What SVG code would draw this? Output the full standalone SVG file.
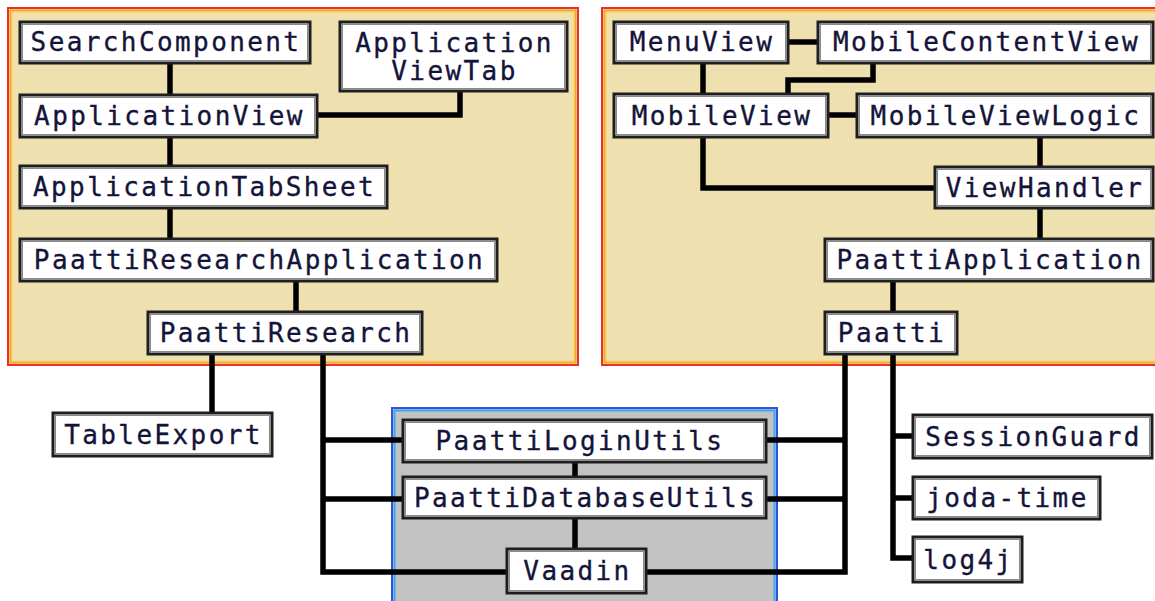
<svg xmlns="http://www.w3.org/2000/svg" width="1155" height="601" viewBox="0 0 1155 601">
<style>
.bg{fill:#ffffff}
.pkg{fill:#EEE1AF;stroke:#E8302C;stroke-width:2}
.pkg2{fill:none;stroke:#F6A623;stroke-width:2}
.pkg3{fill:none;stroke:#F5D35A;stroke-width:1}
.lib{fill:#C2C2C2;stroke:#3550E0;stroke-width:2}
.lib2{fill:none;stroke:#3AA8EE;stroke-width:2}
.box{fill:#ffffff;stroke:#1e1e1e;stroke-width:3}
.bin{fill:none;stroke:#8a8a8a;stroke-width:1}
.t{font-family:"DejaVu Sans Mono","Liberation Mono",monospace;font-size:26px;letter-spacing:2.4px;fill:#14143a;text-anchor:middle;stroke:#14143a;stroke-width:0.35}
.c{fill:none;stroke:#000;stroke-width:5.5;stroke-linejoin:miter;stroke-linecap:butt}
</style>
<rect class="bg" x="0" y="0" width="1155" height="601"/>
<g id="containers">
  <g id="research-pkg">
    <rect class="pkg" x="8" y="8" width="570" height="357"/>
    <rect class="pkg2" x="10.5" y="10.5" width="565" height="352"/>
    <rect class="pkg3" x="12" y="12" width="562" height="349"/>
  </g>
  <g id="paatti-pkg">
    <rect class="pkg" x="602" y="8" width="580" height="357"/>
    <rect class="pkg2" x="604.5" y="10.5" width="575" height="352"/>
    <rect class="pkg3" x="606" y="12" width="572" height="349"/>
  </g>
  <g id="common-pkg">
    <rect class="lib" x="392" y="408" width="385" height="220"/>
    <rect class="lib2" x="394.5" y="410.5" width="380" height="215"/>
  </g>
</g>
<g id="connectors">
  <path class="c" d="M170,63 V95"/>
  <path class="c" d="M460,91 V115 H317"/>
  <path class="c" d="M170,137 V166"/>
  <path class="c" d="M170,208 V239"/>
  <path class="c" d="M296,281 V312"/>
  <path class="c" d="M212,354 V413"/>
  <path class="c" d="M323,354 V572 H507"/>
  <path class="c" d="M323,440 H403"/>
  <path class="c" d="M323,499 H403"/>
  <path class="c" d="M575,462 V477"/>
  <path class="c" d="M575,518 V549"/>
  <path class="c" d="M766,440 H845"/>
  <path class="c" d="M766,499 H845"/>
  <path class="c" d="M646,572 H845 V354"/>
  <path class="c" d="M893,354 V558 H913"/>
  <path class="c" d="M893,436 H913"/>
  <path class="c" d="M893,498 H913"/>
  <path class="c" d="M788,42 H818"/>
  <path class="c" d="M703,63 V94"/>
  <path class="c" d="M873,63 V80 H788 V94"/>
  <path class="c" d="M828,115 H857"/>
  <path class="c" d="M703,137 V188 H935"/>
  <path class="c" d="M1040,137 V167"/>
  <path class="c" d="M1040,208 V239"/>
  <path class="c" d="M893,281 V312"/>
</g>
<g id="SearchComponent"><rect class="box" x="20" y="22" width="290" height="41"/><rect class="bin" x="22.5" y="24.5" width="285" height="36"/><text class="t" x="166" y="51">SearchComponent</text></g>
<g id="ApplicationViewTab"><rect class="box" x="340" y="22" width="227" height="69"/><rect class="bin" x="342.5" y="24.5" width="222" height="64"/><text class="t" x="454.5" y="52">Application</text><text class="t" x="454.5" y="80">ViewTab</text></g>
<g id="ApplicationView"><rect class="box" x="20" y="95" width="297" height="42"/><rect class="bin" x="22.5" y="97.5" width="292" height="37"/><text class="t" x="169.5" y="125">ApplicationView</text></g>
<g id="ApplicationTabSheet"><rect class="box" x="20" y="166" width="367" height="42"/><rect class="bin" x="22.5" y="168.5" width="362" height="37"/><text class="t" x="204.5" y="196">ApplicationTabSheet</text></g>
<g id="PaattiResearchApplication"><rect class="box" x="20" y="239" width="477" height="42"/><rect class="bin" x="22.5" y="241.5" width="472" height="37"/><text class="t" x="259.5" y="269">PaattiResearchApplication</text></g>
<g id="PaattiResearch"><rect class="box" x="148" y="312" width="274" height="42"/><rect class="bin" x="150.5" y="314.5" width="269" height="37"/><text class="t" x="286" y="342">PaattiResearch</text></g>
<g id="TableExport"><rect class="box" x="53" y="413" width="219" height="43"/><rect class="bin" x="55.5" y="415.5" width="214" height="38"/><text class="t" x="163.5" y="443.5">TableExport</text></g>
<g id="PaattiLoginUtils"><rect class="box" x="403" y="420" width="363" height="42"/><rect class="bin" x="405.5" y="422.5" width="358" height="37"/><text class="t" x="580" y="450">PaattiLoginUtils</text></g>
<g id="PaattiDatabaseUtils"><rect class="box" x="403" y="477" width="363" height="41"/><rect class="bin" x="405.5" y="479.5" width="358" height="36"/><text class="t" x="585.5" y="506.5">PaattiDatabaseUtils</text></g>
<g id="Vaadin"><rect class="box" x="507" y="549" width="139" height="44"/><rect class="bin" x="509.5" y="551.5" width="134" height="39"/><text class="t" x="577.5" y="580">Vaadin</text></g>
<g id="MenuView"><rect class="box" x="614" y="22" width="174" height="41"/><rect class="bin" x="616.5" y="24.5" width="169" height="36"/><text class="t" x="702" y="51">MenuView</text></g>
<g id="MobileContentView"><rect class="box" x="818" y="22" width="335" height="41"/><rect class="bin" x="820.5" y="24.5" width="330" height="36"/><text class="t" x="986.5" y="51">MobileContentView</text></g>
<g id="MobileView"><rect class="box" x="614" y="94" width="214" height="43"/><rect class="bin" x="616.5" y="96.5" width="209" height="38"/><text class="t" x="722" y="124.5">MobileView</text></g>
<g id="MobileViewLogic"><rect class="box" x="857" y="94" width="296" height="43"/><rect class="bin" x="859.5" y="96.5" width="291" height="38"/><text class="t" x="1006" y="124.5">MobileViewLogic</text></g>
<g id="ViewHandler"><rect class="box" x="935" y="167" width="218" height="41"/><rect class="bin" x="937.5" y="169.5" width="213" height="36"/><text class="t" x="1045" y="196.5">ViewHandler</text></g>
<g id="PaattiApplication"><rect class="box" x="825" y="239" width="328" height="42"/><rect class="bin" x="827.5" y="241.5" width="323" height="37"/><text class="t" x="990" y="269">PaattiApplication</text></g>
<g id="Paatti"><rect class="box" x="825" y="312" width="132" height="42"/><rect class="bin" x="827.5" y="314.5" width="127" height="37"/><text class="t" x="892" y="342">Paatti</text></g>
<g id="SessionGuard"><rect class="box" x="913" y="415" width="239" height="43"/><rect class="bin" x="915.5" y="417.5" width="234" height="38"/><text class="t" x="1033.5" y="445.5">SessionGuard</text></g>
<g id="joda-time"><rect class="box" x="913" y="477" width="187" height="42"/><rect class="bin" x="915.5" y="479.5" width="182" height="37"/><text class="t" x="1007.5" y="507">joda-time</text></g>
<g id="log4j"><rect class="box" x="913" y="537" width="109" height="45"/><rect class="bin" x="915.5" y="539.5" width="104" height="40"/><text class="t" x="968.5" y="568.5">log4j</text></g>
</svg>
